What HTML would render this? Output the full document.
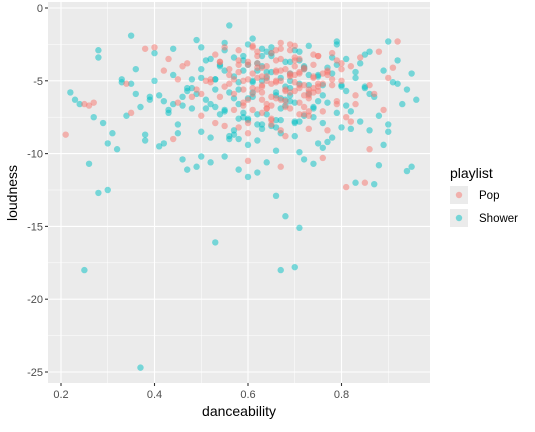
<!DOCTYPE html>
<html><head><meta charset="utf-8"><style>
body{margin:0;background:#fff;font-family:"Liberation Sans",sans-serif}
svg text{font-family:"Liberation Sans",sans-serif}
</style></head><body>
<svg id="chart" width="535" height="427">
<rect x="48" y="2" width="382" height="381" fill="#ebebeb"/>
<g id="grid"></g><g id="points"></g><g id="axes"></g>
<text x="239" y="416" font-size="14" text-anchor="middle" fill="#000">danceability</text>
<text transform="translate(17,193) rotate(-90)" font-size="14" text-anchor="middle" fill="#000">loudness</text>
<g>
<text x="450" y="178" font-size="14" fill="#000">playlist</text>
<g><rect x="450" y="186" width="18" height="18" fill="#ebebeb"/><circle cx="459" cy="195" r="3.2" fill="#F8766D" fill-opacity="0.5"/><text x="479" y="199" font-size="11.5" fill="#000">Pop</text></g>
<g><rect x="450" y="209" width="18" height="18" fill="#ebebeb"/><circle cx="459" cy="218" r="3.2" fill="#00BFC4" fill-opacity="0.5"/><text x="479" y="222" font-size="11.5" fill="#000">Shower</text></g>
</g>
</svg>
<script>
const xTicks=[0.2,0.4,0.6,0.8];
const yTicks=[0,-5,-10,-15,-20,-25];
const showerDance=[0.37,0.25,0.53,0.67,0.7,0.68,0.71,0.66,0.28,0.3,0.26,0.94,0.95,0.88,0.87,0.83,0.56,0.35,0.28,0.28,0.22,0.23,0.24,0.27,0.29,0.3,0.31,0.32,0.36,0.37,0.39,0.38,0.41,0.42,0.46,0.47,0.49,0.5,0.52,0.55,0.58,0.6,0.62,0.64,0.9,0.92,0.95,0.94,0.93,0.9,0.89,0.86,0.84,0.82,0.78,0.76,0.72,0.74,0.6,0.56,0.5,0.45,0.43,0.41,0.33,0.34,0.36,0.4,0.44,0.48,0.51,0.53,0.55,0.57,0.59,0.61,0.63,0.65,0.67,0.69,0.71,0.73,0.75,0.77,0.79,0.81,0.83,0.85,0.87,0.89,0.91,0.52,0.54,0.58,0.62,0.66,0.7,0.74,0.78,0.82,0.86,0.5,0.55,0.6,0.65,0.7,0.75,0.8,0.85,0.48,0.53,0.57,0.63,0.68,0.72,0.76,0.81,0.46,0.51,0.56,0.61,0.64,0.69,0.73,0.79,0.84,0.88,0.49,0.54,0.59,0.62,0.67,0.71,0.77,0.8,0.44,0.47,0.52,0.58,0.63,0.66,0.7,0.74,0.78,0.83,0.92,0.38,0.42,0.45,0.5,0.55,0.6,0.65,0.69,0.72,0.76,0.81,0.86,0.9,0.4,0.57,0.61,0.64,0.68,0.75,0.79,0.53,0.58,0.66,0.71,0.73,0.5,0.54,0.59,0.62,0.67,0.85,0.8,0.47,0.43,0.39,0.35,0.33,0.96,0.63,0.69,
0.56,0.58,0.6,0.62,0.64,0.66,0.68,0.7,0.72,0.74,0.57,0.59,0.61,0.63,0.65,0.67,0.69,0.71,0.73,0.55,0.6,0.64,0.68,0.72,0.76,0.52,0.62,0.66,0.7,0.58,0.53,0.49,0.51,0.57,0.63,0.69,0.75,0.61,0.65,0.67,0.71,0.59,0.77,0.79,0.55,0.46,0.48,0.44,0.6,0.66];
const showerLoud=[-24.7,-18,-16.1,-18,-17.8,-14.3,-15.1,-12.9,-12.7,-12.5,-10.7,-11.2,-10.9,-10.8,-12.1,-12,-1.2,-1.9,-2.9,-3.4,-5.8,-6.3,-6.6,-7.5,-7.9,-9.3,-8.6,-9.7,-5.9,-6.8,-6.3,-8.7,-9.5,-9.3,-10.4,-11.1,-10.9,-10.2,-10.6,-10.2,-11.1,-11.6,-11.3,-10.6,-2.3,-3.6,-4.5,-5.6,-6.6,-8.5,-9.4,-8.4,-7.8,-8.3,-8.9,-9.6,-10.4,-10.7,-9.4,-9,-8.5,-8,-7.2,-6,-5.1,-7.4,-4.2,-3.1,-4.6,-5.5,-3.6,-4.9,-2.4,-6.2,-3.3,-5.8,-2.8,-4.4,-6.9,-3.7,-5.2,-2.6,-6.4,-4.1,-3.9,-5.7,-4.8,-3.2,-6.1,-4.3,-5.1,-6.6,-7.3,-5.1,-3.8,-7.7,-2.9,-6.8,-4.5,-7.1,-5.9,-4.2,-2.9,-7.6,-8.1,-6.5,-4.7,-8.2,-5.4,-4.9,-5.6,-8.4,-3.3,-6.3,-4.1,-7.9,-3.5,-6.7,-6.9,-8.8,-5.0,-3.0,-6.0,-4.6,-7.2,-3.8,-7.4,-2.2,-3.9,-4.3,-8.0,-6.2,-7.8,-9.2,-5.3,-6.6,-5.7,-3.5,-9.0,-4.0,-5.8,-8.8,-7.5,-3.4,-4.4,-5.2,-9.1,-6.4,-8.6,-4.8,-7.0,-7.7,-3.1,-5.5,-4.0,-5.3,-6.7,-3.0,-8.0,-5.0,-4.7,-6.1,-7.3,-3.7,-4.6,-2.5,-4.9,-5.6,-9.8,-9.9,-5.9,-2.7,-4.0,-3.6,-4.3,-4.8,-5.5,-5.4,-5.5,-7.0,-6.1,-5.2,-4.9,-6.3,-5.0,
-4.5,-5.8,-6.6,-3.9,-7.3,-4.8,-6.0,-5.4,-7.8,-4.2,-6.9,-3.4,-7.5,-5.1,-8.3,-2.7,-8.6,-6.4,-3.0,-5.3,-7.1,-6.2,-4.4,-6.7,-7.4,-6.0,-8.9,-9.1,-8.2,-7.9,-7.6,-6.8,-5.9,-6.3,-8.7,-8.0,-5.0,-9.3,-2.1,-3.3,-7.7,-3.6,-7.2,-6.5,-2.3,-4.3,-6.1,-6.9,-2.8,-2.5];
const popDance=[0.21,0.25,0.26,0.27,0.81,0.85,0.92,0.88,0.86,0.76,0.6,0.67,0.44,0.38,0.4,0.34,0.35,0.42,0.45,0.47,0.49,0.5,0.52,0.53,0.54,0.55,0.56,0.57,0.58,0.59,0.6,0.61,0.62,0.63,0.64,0.65,0.66,0.67,0.68,0.69,0.7,0.71,0.72,0.73,0.74,0.75,0.76,0.77,0.78,0.79,0.8,0.82,0.84,0.87,0.9,0.55,0.58,0.61,0.64,0.67,0.7,0.73,0.76,0.79,0.82,0.57,0.6,0.63,0.66,0.69,0.72,0.75,0.78,0.81,0.56,0.59,0.62,0.65,0.68,0.71,0.74,0.77,0.8,0.83,0.5,0.53,0.6,0.64,0.68,0.72,0.66,0.7,0.74,0.62,0.58,0.48,0.45,0.52,0.69,0.73,0.77,0.65,0.61,0.71,0.75,0.63,0.67,0.54,0.86,0.89,0.91,0.43,0.46,
0.58,0.59,0.6,0.61,0.62,0.63,0.64,0.65,0.66,0.67,0.68,0.69,0.7,0.71,0.72,0.73,0.74,0.75,0.76,0.6,0.62,0.64,0.66,0.68,0.7,0.72,0.74,0.61,0.63,0.65,0.67,0.69,0.71,0.73,0.57,0.59,0.61,0.63,0.65,0.67,0.69,0.71,0.73,0.75,0.77,0.64,0.66,0.68,0.7,0.72,0.56,0.58,0.62,0.66,0.7,0.74,0.78,0.54,0.51,0.55,0.6,0.65,0.69,0.73,0.8,0.83,0.79,0.67,0.63,0.71];
const popLoud=[-8.7,-6.6,-6.7,-6.5,-12.3,-12.0,-2.3,-3.0,-9.7,-10.3,-10.5,-10.9,-9.0,-2.8,-2.7,-5.2,-7.2,-4.3,-6.5,-3.8,-5.6,-7.4,-4.9,-3.2,-6.1,-5.4,-4.2,-7.0,-3.6,-5.0,-6.3,-4.5,-3.3,-5.8,-4.0,-7.6,-5.1,-3.5,-6.8,-4.7,-2.6,-5.3,-4.1,-6.2,-3.9,-5.7,-7.1,-4.4,-3.1,-6.6,-5.0,-7.8,-3.4,-5.9,-4.8,-8.1,-2.9,-5.5,-6.9,-2.4,-4.6,-8.3,-5.2,-6.4,-4.0,-5.9,-3.7,-7.2,-4.3,-5.8,-6.0,-3.3,-4.9,-7.5,-4.6,-6.7,-5.6,-8.0,-4.2,-6.5,-5.5,-8.4,-3.8,-6.0,-5.9,-7.9,-8.6,-6.9,-8.8,-7.3,-2.9,-3.6,-4.7,-3.0,-8.2,-6.1,-4.9,-5.1,-4.5,-5.6,-4.3,-5.2,-2.7,-4.4,-5.4,-6.3,-5.0,-3.7,-5.3,-7.0,-4.1,-3.5,-4.0,
-4.4,-5.6,-4.9,-5.9,-4.1,-5.3,-4.7,-6.1,-5.0,-4.3,-5.7,-4.6,-5.1,-5.5,-4.2,-5.8,-4.8,-5.2,-4.5,-3.9,-3.8,-6.6,-3.6,-6.4,-3.4,-6.8,-3.2,-7.0,-5.4,-3.1,-6.3,-2.9,-7.3,-6.0,-4.9,-6.5,-2.6,-4.1,-7.7,-2.8,-6.9,-3.5,-7.1,-3.3,-4.6,-5.0,-4.4,-5.6,-4.0,-5.3,-5.2,-3.9,-4.8,-6.2,-5.7,-5.8,-5.3,-3.7,-5.0,-2.7,-7.9,-6.7,-2.5,-7.4,-4.2,-6.6,-3.6,-8.4,-4.7,-4.5];
const sx=v=>61+(v-0.2)*467.5;
const sy=v=>8-v*14.56;
const NS="http://www.w3.org/2000/svg";
const grid=document.getElementById('grid'),axes=document.getElementById('axes'),pts=document.getElementById('points');
function ln(p,x1,y1,x2,y2,c,w){const l=document.createElementNS(NS,'line');l.setAttribute('x1',x1);l.setAttribute('y1',y1);l.setAttribute('x2',x2);l.setAttribute('y2',y2);l.setAttribute('stroke',c);l.setAttribute('stroke-width',w);p.appendChild(l);return l;}
for(let i=0;i<xTicks.length;i++){const x=sx(xTicks[i]);
const g=ln(grid,x,2,x,383,'#fff',1.1);


if(i<xTicks.length-1){const m=ln(grid,sx(xTicks[i]+0.1),2,sx(xTicks[i]+0.1),383,'#fff',0.5);}
ln(axes,x,383,x,386,'#333',1.1);
const t=document.createElementNS(NS,'text');t.setAttribute('x',x);t.setAttribute('y',398);t.setAttribute('font-size','11');t.setAttribute('fill','#4d4d4d');t.setAttribute('text-anchor','middle');t.textContent=xTicks[i];


axes.appendChild(t);}
{const m=ln(grid,sx(0.9),2,sx(0.9),383,'#fff',0.5);}
for(let i=0;i<yTicks.length;i++){const y=sy(yTicks[i]);
const g=ln(grid,48,y,430,y,'#fff',1.1);


if(i<yTicks.length-1){const m=ln(grid,48,sy(yTicks[i]-2.5),430,sy(yTicks[i]-2.5),'#fff',0.5);}
ln(axes,45,y,48,y,'#333',1.1);
const t=document.createElementNS(NS,'text');t.setAttribute('x',43);t.setAttribute('y',y+4);t.setAttribute('font-size','11');t.setAttribute('fill','#4d4d4d');t.setAttribute('text-anchor','end');t.textContent=yTicks[i];


axes.appendChild(t);}
function dots(dx,dy,col,name){const n=Math.min(dx.length,dy.length);for(let i=0;i<n;i++){const c=document.createElementNS(NS,'circle');c.setAttribute('cx',sx(dx[i]));c.setAttribute('cy',sy(dy[i]));c.setAttribute('r',3.2);c.setAttribute('fill',col);c.setAttribute('fill-opacity',0.5);


pts.appendChild(c);}}
dots(showerDance,showerLoud,'#00BFC4','shower-point');
dots(popDance,popLoud,'#F8766D','pop-point');
</script>
</body></html>
